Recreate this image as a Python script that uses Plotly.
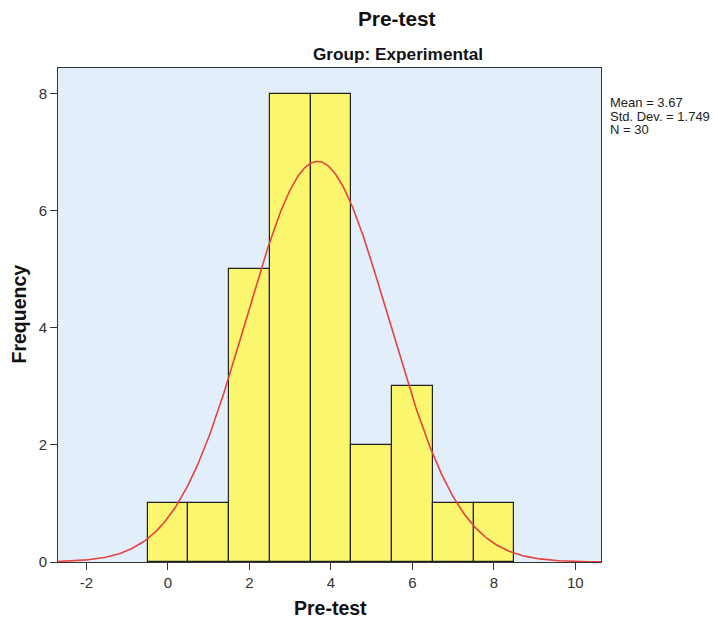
import numpy as np
import plotly.graph_objects as go

bins = [0, 1, 2, 3, 4, 5, 6, 7, 8]
counts = [1, 1, 5, 8, 8, 2, 3, 1, 1]
mean_val = 3.67
sd_val = 1.749
n_val = 30
x_ticks = [-2, 0, 2, 4, 6, 8, 10]
x_tick_labels = ["-2", "0", "2", "4", "6", "8", "10"]
y_ticks = [0, 2, 4, 6, 8]
y_tick_labels = ["0", "2", "4", "6", "8"]

xs = np.linspace(-2.7, 10.63, 400)
ys = n_val * 1.0 / (sd_val * np.sqrt(2 * np.pi)) * np.exp(-0.5 * ((xs - mean_val) / sd_val) ** 2)

fig = go.Figure()
fig.add_trace(go.Bar(x=bins, y=counts, width=1,
                     marker=dict(color="#FAF76E", line=dict(color="#222222", width=1.2)),
                     hoverinfo="x+y"))
fig.add_trace(go.Scatter(x=xs, y=ys, mode="lines", line=dict(color="#E8413F", width=1.6)))

font = "Liberation Sans, Arial, sans-serif"
FW, FH = 718, 622
L, R, T, B = 58, 601, 68, 562
W, H = R - L, B - T


def px(x):
    return (x - L) / W


def py(y):
    return (B - y) / H


def txt(text, x, y, size, xanchor="center", angle=0, color="#111111"):
    return dict(text=text, xref="paper", yref="paper", x=px(x), y=py(y), showarrow=False,
                font=dict(size=size, color=color, family=font), xanchor=xanchor, yanchor="middle",
                textangle=angle)


stats = [f"Mean = {mean_val:.2f}", f"Std. Dev. = {sd_val:.3f}", f"N = {n_val}"]

fig.update_layout(
    width=FW, height=FH,
    margin=dict(l=L, r=FW - R, t=T, b=FH - B, autoexpand=False),
    paper_bgcolor="white", plot_bgcolor="#E2EEFA",
    showlegend=False, bargap=0,
    font=dict(family=font, size=12, color="#333333"),
    annotations=[
        txt("<b>Pre-test</b>", 397, 18, 20.8),
        txt("<b>Group: Experimental</b>", 398, 54, 17.2),
        txt(stats[0], 608, 102, 13, xanchor="left", color="#222222"),
        txt(stats[1], 608, 116, 13, xanchor="left", color="#222222"),
        txt(stats[2], 608, 130, 13, xanchor="left", color="#222222"),
        txt("<b>Pre-test</b>", 330, 608, 19.5),
        txt("<b>Frequency</b>", 18.5, 314, 19.5, angle=-90),
    ],
    xaxis=dict(range=[-2.7, 10.63], tickvals=x_ticks, ticktext=x_tick_labels, ticks="outside", ticklen=7,
               tickcolor="#333333", showgrid=False, zeroline=False, showline=True, linecolor="#333333",
               linewidth=1, mirror=True, automargin=False,
               tickfont=dict(size=15, color="#333333")),
    yaxis=dict(range=[0, 8.44], tickvals=y_ticks, ticktext=y_tick_labels, ticks="outside", ticklen=7,
               tickcolor="#333333", showgrid=False, zeroline=False, showline=True, linecolor="#333333",
               linewidth=1, mirror=True, automargin=False,
               tickfont=dict(size=15, color="#333333")),
)
fig.write_html("out.html", config={"displayModeBar": False},
               post_script="document.body.style.margin='0';document.body.style.overflow='hidden';")
